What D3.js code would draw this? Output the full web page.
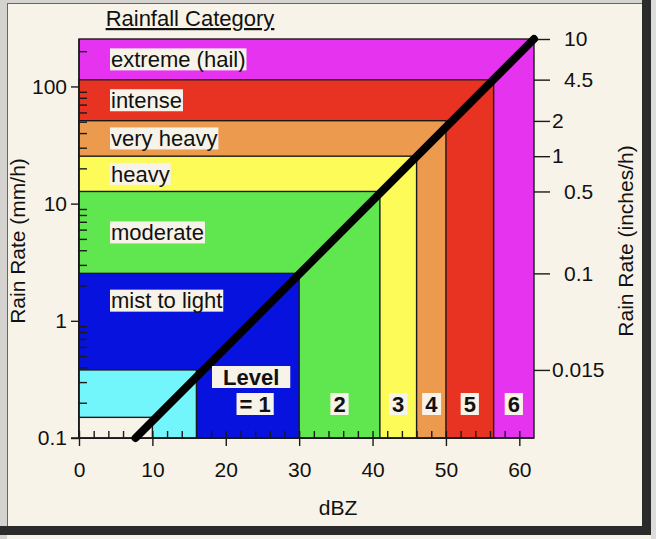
<!DOCTYPE html>
<html>
<head>
<meta charset="utf-8">
<script src="https://cdn.jsdelivr.net/npm/d3@7"></script>
<style>
  body { margin: 0; background: #f8f3e8; }
  text { font-family: "Liberation Sans", Arial, sans-serif; fill: #111; }
</style>
</head>
<body>
<div class="chart"></div>
<script>
// rainfall category bands: each box runs from 0 dBZ / 0.1 mm/h up to its corner
var bandNames = ["extreme (hail)", "intense", "very heavy", "heavy", "moderate", "mist to light", "", ""];
var bandDbz = [62, 56.5, 50, 46, 41, 30, 16, 10];
var bandRate = [254, 114, 51, 25.4, 12.7, 2.54, 0.381, 0.15];
var bandColors = ["#e533f0", "#e83322", "#ec9a4e", "#fdfb58", "#60e64e", "#0712de", "#72f6fb", "#f8f3e8"];

// radar level labels, placed between dBZ edges
var levelNames = ["= 1", "2", "3", "4", "5", "6"];
var levelEdges = [18, 30, 41, 46, 50, 56.5, 62];

// Z-R relation line, read at its two ends
var lineDbz = [7.7, 62];
var lineRate = [0.1, 254];

var xTicks = [0, 10, 20, 30, 40, 50, 60];
var yTicks = [0.1, 1, 10, 100];
var inchTicks = [10, 4.5, 2, 1, 0.5, 0.1, 0.015];

var svgWidth = 656;
var svgHeight = 539;

var svg = d3.select(".chart")
  .append("svg")
  .attr("width", svgWidth)
  .attr("height", svgHeight);

// window frame
svg.append("rect").attr("x", 0).attr("y", 0).attr("width", 656).attr("height", 539).attr("fill", "#f8f3e8");
svg.append("rect").attr("x", 0).attr("y", 0).attr("width", 7).attr("height", 539).attr("fill", "#d4d3d0");
svg.append("rect").attr("x", 0).attr("y", 0).attr("width", 656).attr("height", 3).attr("fill", "#d4d3d0");
svg.append("rect").attr("x", 651).attr("y", 0).attr("width", 5).attr("height", 539).attr("fill", "#dcdcdc");
svg.append("rect").attr("x", 642).attr("y", 0).attr("width", 9).attr("height", 535).attr("fill", "#2b2b2b");
svg.append("rect").attr("x", 0).attr("y", 526).attr("width", 651).attr("height", 9).attr("fill", "#2b2b2b");
svg.append("line").attr("x1", 7.5).attr("y1", 3).attr("x2", 7.5).attr("y2", 526).attr("stroke", "#666");
svg.append("line").attr("x1", 7).attr("y1", 3.5).attr("x2", 642).attr("y2", 3.5).attr("stroke", "#666");

var x = d3.scaleLinear().domain([0, 62]).range([79, 534]);
var y = d3.scaleLog().domain([0.1, 254]).range([438, 39]);
var yIn = d3.scaleLog().domain([0.1 / 25.4, 10]).range([438, 39]);

var bands = bandNames.map(function(n, i) {
  return { name: n, dbz: bandDbz[i], rate: bandRate[i], color: bandColors[i] };
});

svg.append("g").selectAll("rect")
  .data(bands)
  .enter()
  .append("rect")
  .attr("x", x(0))
  .attr("y", d => y(d.rate))
  .attr("width", d => x(d.dbz) - x(0))
  .attr("height", d => y(0.1) - y(d.rate))
  .attr("fill", d => d.color)
  .attr("stroke", "#1a1a1a")
  .attr("stroke-width", 1.4);

// axes
var leftAxis = d3.axisLeft(y).tickValues(yTicks).tickSize(8).tickPadding(4)
  .tickFormat(d => d < 1 ? "0.1" : String(d));
var minorY = [];
[0.1, 1, 10, 100].forEach(function(dec) {
  for (var k = 2; k <= 9; k++) if (dec * k <= 254) minorY.push(dec * k);
});
var leftMinor = d3.axisRight(y).tickValues(minorY).tickSize(8).tickFormat("");

var gl = svg.append("g").attr("transform", "translate(79,0)").call(leftAxis);
svg.append("g").attr("transform", "translate(79,0)").call(leftMinor).select(".domain").remove();

var bottomAxis = d3.axisBottom(x).tickValues(xTicks).tickSize(8).tickPadding(16);
var gb = svg.append("g").attr("transform", "translate(0,438)").call(bottomAxis);
var minorX = d3.range(2, 62, 2).filter(d => d % 10 !== 0);
svg.append("g").attr("transform", "translate(0,438)")
  .call(d3.axisTop(x).tickValues(minorX.concat(xTicks)).tickSize(7).tickFormat(""))
  .select(".domain").remove();

var rightAxis = d3.axisRight(yIn).tickValues(inchTicks).tickSize(16)
  .tickFormat(d => String(d));
var gr = svg.append("g").attr("transform", "translate(534,0)").call(rightAxis);
gr.select(".domain").remove();
gr.selectAll(".tick text").attr("x", d => (d === 2 || d === 1 || d === 0.015) ? 18 : 30);

gl.select(".domain").attr("d", "M0,39V438");
gb.select(".domain").attr("d", "M71,0H534");

svg.selectAll(".tick line").attr("stroke", "#1a1a1a").attr("stroke-width", 1.4);
svg.selectAll(".domain").attr("stroke", "#1a1a1a").attr("stroke-width", 1.4);
svg.selectAll(".tick text").style("font-size", "21px").style("font-family", "'Liberation Sans', Arial, sans-serif").attr("fill", "#222");

// Z-R line
var zr = d3.line().x(d => x(d[0])).y(d => y(d[1]));
svg.append("path")
  .datum(lineDbz.map((d, i) => [d, lineRate[i]]))
  .attr("d", zr)
  .attr("fill", "none")
  .attr("stroke", "#000")
  .attr("stroke-width", 8)
  .attr("stroke-linecap", "round");

// text with a cream box behind it
function boxLabel(g, tx, ty, txt, anchor, size, weight, pad) {
  var t = g.append("text")
    .attr("x", tx)
    .attr("y", ty)
    .attr("dy", "0.35em")
    .attr("text-anchor", anchor)
    .style("font-size", size + "px")
    .style("font-weight", weight)
    .text(txt);
  var b = t.node().getBBox();
  g.insert("rect", "text")
    .attr("x", b.x - pad)
    .attr("y", ty - 11)
    .attr("width", b.width + 2 * pad)
    .attr("height", 22)
    .attr("fill", "#f8f3e8");
}

var labelG = svg.append("g");
bands.filter(d => d.name).forEach(function(d, i) {
  var lo = i + 1 < bands.length ? bands[i + 1].rate : 0.1;
  var ty = y(Math.sqrt(d.rate * lo));
  if (d.name === "mist to light") ty -= 21;
  var g = labelG.append("g");
  boxLabel(g, 111, ty, d.name, "start", 22, "normal", 1);
});

var levelG = svg.append("g");
levelNames.forEach(function(n, i) {
  var cx = x((levelEdges[i] + levelEdges[i + 1]) / 2);
  var g = levelG.append("g");
  boxLabel(g, cx, 404, n, "middle", 22, "bold", 3);
  if (i === 0) {
    var g2 = levelG.append("g");
    boxLabel(g2, cx - 4, 377, "Level", "middle", 22, "bold", 11);
  }
});

// titles
svg.append("text")
  .attr("x", 190)
  .attr("y", 26)
  .attr("text-anchor", "middle")
  .style("font-size", "22px")
  .style("text-decoration", "underline")
  .text("Rainfall Category");

svg.append("text")
  .attr("x", 338)
  .attr("y", 515)
  .attr("text-anchor", "middle")
  .style("font-size", "21px")
  .text("dBZ");

svg.append("text")
  .attr("transform", "translate(25,241) rotate(-90)")
  .attr("text-anchor", "middle")
  .style("font-size", "21px")
  .text("Rain Rate (mm/h)");

svg.append("text")
  .attr("transform", "translate(633,241) rotate(-90)")
  .attr("text-anchor", "middle")
  .style("font-size", "21px")
  .text("Rain Rate (inches/h)");
</script>
</body>
</html>
